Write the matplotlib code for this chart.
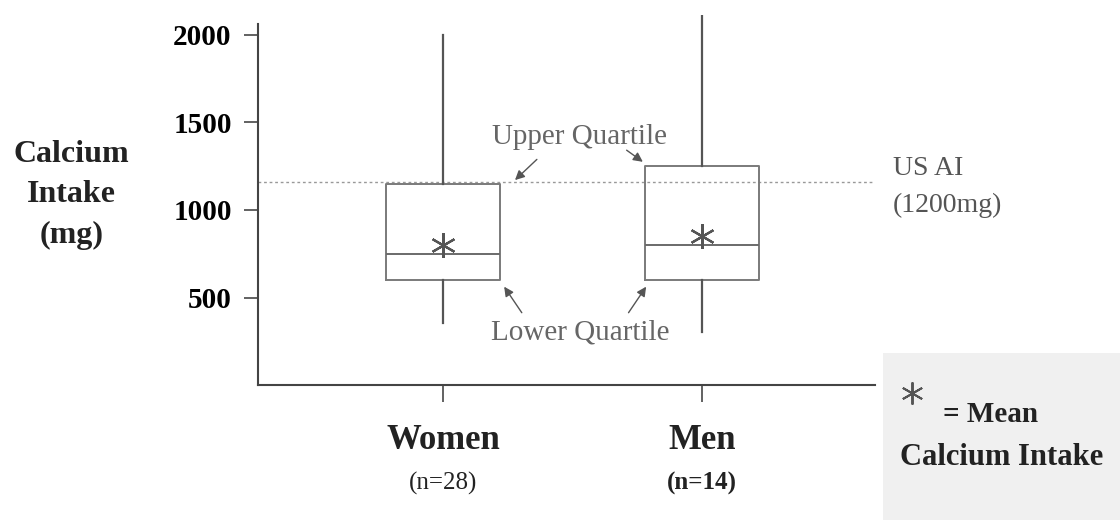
import matplotlib
matplotlib.use('Agg')
import matplotlib.pyplot as plt
from matplotlib.patches import Rectangle
from matplotlib.transforms import blended_transform_factory

# data
groups = ['Women', 'Men']
n_labels = ['(n=28)', '(n=14)']
whisker_low = [354, 303]
q1 = [600, 600]
median = [749, 800]
q3 = [1150, 1251]
whisker_high = [2000, 2114]
means = [800, 851]
us_ai = 1160
yticks = [500, 1000, 1500, 2000]

grey = '#666666'
plt.rcParams['font.family'] = ['Liberation Serif', 'DejaVu Serif']

fig = plt.figure(figsize=(11.2, 5.2), dpi=100)
ax = fig.add_axes([0.2304, 0.2596, 0.551, 0.7115])

positions = [1, 2]
stats = []
for i, g in enumerate(groups):
    stats.append({'label': g, 'whislo': whisker_low[i], 'q1': q1[i], 'med': median[i],
                  'q3': q3[i], 'whishi': whisker_high[i], 'mean': means[i], 'fliers': []})

ax.bxp(stats, positions=positions, widths=0.44, showcaps=False, showfliers=False,
       showmeans=True,
       boxprops=dict(color='#7a7a7a', linewidth=1.4),
       whiskerprops=dict(color='#555555', linewidth=1.6),
       medianprops=dict(color='#6a6a6a', linewidth=1.4),
       meanprops=dict(marker=(6, 2, 0), markersize=18, markeredgecolor='#555555',
                      markerfacecolor='#555555', markeredgewidth=1.6))

# US AI reference line
ax.axhline(us_ai, color='#999999', linestyle=(0, (2, 2)), linewidth=1.0, zorder=0)

ax.set_xlim(0.286, 2.668)
ax.set_ylim(0, 2114)
ax.spines['top'].set_visible(False)
ax.spines['right'].set_visible(False)
ax.spines['left'].set_bounds(0, 2063)
for s in ['left', 'bottom']:
    ax.spines[s].set_color('#444444')
    ax.spines[s].set_linewidth(1.5)

ax.set_yticks(yticks)
ax.set_yticklabels([str(t) for t in yticks], fontsize=21, fontweight='bold')
ax.tick_params(axis='y', direction='out', length=10, width=1.3, color='#555555', pad=9)
ax.set_xticks(positions)
ax.set_xticklabels(['', ''])
ax.tick_params(axis='x', direction='out', length=12, width=1.3, color='#555555')

trans = blended_transform_factory(ax.transData, ax.transAxes)
for i, p in enumerate(positions):
    ax.text(p, -0.149, groups[i], transform=trans, ha='center', va='center',
            fontsize=25, fontweight='bold', color='#222222')
    ax.text(p, -0.265, n_labels[i], transform=trans, ha='center', va='center',
            fontsize=18, fontweight='bold' if i == 1 else 'normal', color='#222222')

# y axis title
fig.text(0.064, 0.625, 'Calcium\nIntake\n(mg)', ha='center', va='center',
         fontsize=23, fontweight='bold', color='#222222', linespacing=1.5)

# quartile annotations
half = 0.22
arrow = dict(arrowstyle='-|>', color='#555555', lw=1.0, mutation_scale=14)
ax.annotate('', xy=(positions[0] + half + 0.05, q3[0] + 10), xytext=(positions[0] + half + 0.15, q3[0] + 150),
            arrowprops=arrow)
ax.annotate('', xy=(positions[1] - half + 0.0, q3[1] + 15), xytext=(positions[1] - half - 0.08, q3[1] + 100),
            arrowprops=arrow)
ax.annotate('', xy=(positions[0] + half + 0.01, q1[0] - 25), xytext=(positions[0] + half + 0.09, q1[0] - 200),
            arrowprops=arrow)
ax.annotate('', xy=(positions[1] - half + 0.01, q1[1] - 25), xytext=(positions[1] - half - 0.07, q1[1] - 200),
            arrowprops=arrow)
ax.text(1.525, 1417, 'Upper Quartile', ha='center', va='center', fontsize=21, color=grey)
ax.text(1.53, 300, 'Lower Quartile', ha='center', va='center', fontsize=21, color=grey)

# US AI label
fig.text(0.797, 0.64, 'US AI\n(1200mg)', ha='left', va='center', fontsize=20,
         color='#555555', linespacing=1.6)

# mean legend box
fig.patches.append(Rectangle((0.788, 0.0), 0.212, 0.321, transform=fig.transFigure,
                             facecolor='#f0f0f0', edgecolor='none', zorder=0))
fig.lines.append(plt.Line2D([0.814], [0.244], transform=fig.transFigure, marker=(6, 2, 0),
                            markersize=16, color='#555555', markeredgewidth=1.4))
fig.text(0.842, 0.202, '= Mean', ha='left', va='center', fontsize=21, fontweight='bold', color='#222222')
fig.text(0.894, 0.121, 'Calcium Intake', ha='center', va='center', fontsize=22,
         fontweight='bold', color='#222222')

fig.savefig('out.png', dpi=100)
